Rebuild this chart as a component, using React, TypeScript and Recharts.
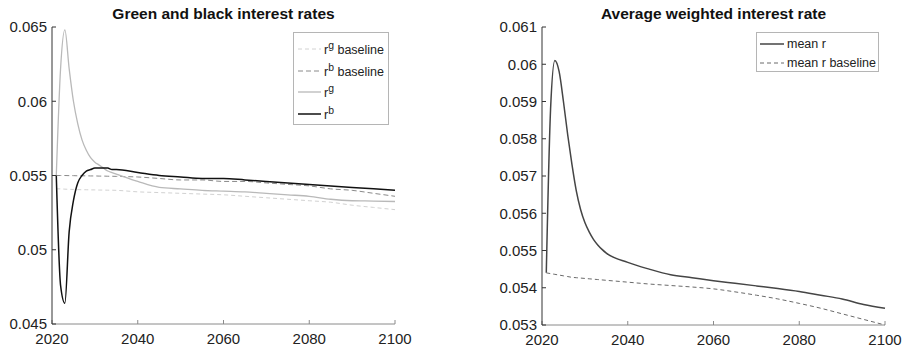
import type { ReactNode } from "react";
import { Legend, Line, LineChart, XAxis, YAxis } from "recharts";

const YEARS = [
  2021, 2022, 2023, 2024, 2025, 2026, 2027, 2028, 2029, 2030, 2031, 2032, 2033, 2034, 2035,
  2040, 2045, 2050, 2055, 2060, 2065, 2070, 2075, 2080, 2085, 2090, 2095, 2100,
];

// left panel
const R_G_BASE = [
  0.0541, 0.0541, 0.05408, 0.05407, 0.05406, 0.05405, 0.05404, 0.05404, 0.05403, 0.05403, 0.05402,
  0.05402, 0.05401, 0.05401, 0.054, 0.0539, 0.05385, 0.0538, 0.05375, 0.0537, 0.0536, 0.0535,
  0.0534, 0.0533, 0.0532, 0.053, 0.05285, 0.0527,
];
const R_B_BASE = [
  0.055, 0.055, 0.055, 0.05499, 0.05499, 0.05498, 0.05498, 0.05498, 0.05497, 0.05497, 0.05496,
  0.05496, 0.05495, 0.05495, 0.05494, 0.0549, 0.0548, 0.0547, 0.0547, 0.0546, 0.0546, 0.0545,
  0.0544, 0.0543, 0.0541, 0.054, 0.0538, 0.0536,
];
const R_G = [
  0.055, 0.0622, 0.0648, 0.0622, 0.06, 0.0585, 0.0574, 0.0567, 0.0562, 0.0559, 0.0557, 0.0555,
  0.0553, 0.0552, 0.0551, 0.0546, 0.0542, 0.0541, 0.054, 0.05395, 0.0539, 0.0538, 0.0537, 0.0536,
  0.0534, 0.0533, 0.05328, 0.05325,
];
const R_B = [
  0.055, 0.0476, 0.0464, 0.0512, 0.0533, 0.0545, 0.055, 0.0553, 0.0554, 0.0555, 0.0555, 0.0555,
  0.0555, 0.0554, 0.0554, 0.0552, 0.055, 0.0549, 0.0548, 0.0548, 0.0547, 0.0546, 0.0545, 0.0544,
  0.0543, 0.0542, 0.0541, 0.054,
];

// right panel
const MEAN_R = [
  0.0544, 0.0588, 0.0601, 0.0598, 0.059, 0.0581, 0.0573, 0.0566, 0.0561, 0.05575, 0.0555, 0.0553,
  0.05515, 0.05503, 0.05493, 0.05468, 0.0545, 0.05435, 0.05427, 0.05419, 0.05412, 0.05405, 0.05398,
  0.0539, 0.0538, 0.0537, 0.05355, 0.05345,
];
const MEAN_R_BASE = [
  0.0544, 0.05438, 0.05436, 0.05434, 0.05432, 0.0543, 0.05428, 0.05427, 0.05426, 0.05425, 0.05424,
  0.05423, 0.05422, 0.05421, 0.0542, 0.05415, 0.0541, 0.05406, 0.05402, 0.05397, 0.05389, 0.0538,
  0.0537, 0.05358, 0.05345, 0.0533, 0.05315, 0.053,
];

const X_TICKS = [2020, 2040, 2060, 2080, 2100];
const LEFT_Y_TICKS = [0.045, 0.05, 0.055, 0.06, 0.065];
const RIGHT_Y_TICKS = [0.053, 0.054, 0.055, 0.056, 0.057, 0.058, 0.059, 0.06, 0.061];

const leftData = YEARS.map((year, i) => ({
  year,
  rgBase: R_G_BASE[i],
  rbBase: R_B_BASE[i],
  rg: R_G[i],
  rb: R_B[i],
}));

const rightData = YEARS.map((year, i) => ({
  year,
  meanR: MEAN_R[i],
  meanRBase: MEAN_R_BASE[i],
}));

type Series = {
  key: string;
  label: ReactNode;
  color: string;
  width: number;
  dash?: string;
};

const LEFT_SERIES: Series[] = [
  { key: "rgBase", label: <>r<sup>g</sup> baseline</>, color: "#d2d2d2", width: 1, dash: "4 3" },
  { key: "rbBase", label: <>r<sup>b</sup> baseline</>, color: "#8a8a8a", width: 1, dash: "5 3" },
  { key: "rg", label: <>r<sup>g</sup></>, color: "#b9b9b9", width: 1.3 },
  { key: "rb", label: <>r<sup>b</sup></>, color: "#111", width: 1.5 },
];

const RIGHT_SERIES: Series[] = [
  { key: "meanR", label: "mean r", color: "#454545", width: 1.5 },
  { key: "meanRBase", label: "mean r baseline", color: "#6a6a6a", width: 1, dash: "4 3" },
];

const FONT = '"Liberation Sans", Arial, Helvetica, sans-serif';

function LegendBox({ items, lineLeft, lineW, rowH, padTop }: {
  items: Series[];
  lineLeft: number;
  lineW: number;
  rowH: number;
  padTop: number;
}) {
  return (
    <div
      style={{
        border: "1px solid #b5b5b5",
        background: "#fff",
        boxSizing: "border-box",
        width: "100%",
        height: "100%",
        paddingTop: padTop,
        fontFamily: FONT,
        fontSize: 12.5,
        color: "#222",
      }}
    >
      {items.map((s) => (
        <div key={s.key} style={{ height: rowH, display: "flex", alignItems: "center" }}>
          <svg width={lineLeft + lineW + 3} height={10} style={{ flex: "none" }}>
            <line
              x1={lineLeft}
              x2={lineLeft + lineW}
              y1={5}
              y2={5}
              stroke={s.color}
              strokeWidth={s.width}
              strokeDasharray={s.dash}
            />
          </svg>
          <span style={{ whiteSpace: "nowrap", lineHeight: 1 }}>{s.label}</span>
        </div>
      ))}
    </div>
  );
}

function Panel({
  title,
  data,
  series,
  yTicks,
  margin,
  legendStyle,
  legendProps,
}: {
  title: string;
  data: Record<string, number>[];
  series: Series[];
  yTicks: number[];
  margin: { left: number; right: number; top: number; bottom: number };
  legendStyle: Record<string, number>;
  legendProps: { lineLeft: number; lineW: number; rowH: number; padTop: number };
}) {
  const plotW = 451 - margin.left - margin.right;
  const tickStyle = { fontSize: 15, fill: "#222", fontFamily: FONT };
  return (
    <div style={{ position: "relative", width: 451, height: 354 }}>
      <div
        style={{
          position: "absolute",
          left: margin.left,
          width: plotW,
          top: 5,
          textAlign: "center",
          fontFamily: FONT,
          fontWeight: "bold",
          fontSize: 15.5,
          lineHeight: "18px",
          color: "#111",
          whiteSpace: "nowrap",
        }}
      >
        {title}
      </div>
      <LineChart
        width={451}
        height={354}
        data={data}
        margin={{ top: margin.top, right: margin.right, bottom: 0, left: 0 }}
      >
        <XAxis
          dataKey="year"
          type="number"
          domain={[2020, 2100]}
          ticks={X_TICKS}
          height={margin.bottom}
          tickSize={-4}
          tickMargin={13}
          stroke="#8a8a8a"
          tick={tickStyle}
        />
        <XAxis
          xAxisId="top"
          orientation="top"
          type="number"
          domain={[2020, 2100]}
          ticks={X_TICKS}
          height={0}
          tickSize={-4}
          tickFormatter={() => ""}
          stroke="#8a8a8a"
        />
        <YAxis
          type="number"
          domain={[yTicks[0], yTicks[yTicks.length - 1]]}
          ticks={yTicks}
          width={margin.left}
          tickSize={-4}
          tickMargin={9}
          tickFormatter={(v: number) => String(v)}
          stroke="#333"
          tick={tickStyle}
        />
        <YAxis
          yAxisId="right"
          orientation="right"
          type="number"
          domain={[yTicks[0], yTicks[yTicks.length - 1]]}
          ticks={yTicks}
          width={0}
          tickSize={-4}
          tickFormatter={() => ""}
          stroke="#8a8a8a"
        />
        <Legend
          layout="vertical"
          align="center"
          verticalAlign="middle"
          wrapperStyle={{ position: "absolute", ...legendStyle }}
          content={() => <LegendBox items={series} {...legendProps} />}
        />
        {series.map((s) => (
          <Line
            key={s.key}
            type="monotone"
            dataKey={s.key}
            stroke={s.color}
            strokeWidth={s.width}
            strokeDasharray={s.dash}
            dot={false}
            activeDot={false}
            isAnimationActive={false}
          />
        ))}
      </LineChart>
    </div>
  );
}

export default function App() {
  return (
    <div style={{ position: "absolute", left: 0, top: 0, width: 902, height: 354, display: "flex", background: "#fff" }}>
      <Panel
        title="Green and black interest rates"
        data={leftData}
        series={LEFT_SERIES}
        yTicks={LEFT_Y_TICKS}
        margin={{ left: 52, right: 56, top: 27, bottom: 30 }}
        legendStyle={{ left: 293, top: 32, width: 96, height: 93 }}
        legendProps={{ lineLeft: 4, lineW: 23, rowH: 21.7, padTop: 5 }}
      />
      <Panel
        title="Average weighted interest rate"
        data={rightData}
        series={RIGHT_SERIES}
        yTicks={RIGHT_Y_TICKS}
        margin={{ left: 91, right: 17, top: 27, bottom: 29 }}
        legendStyle={{ left: 305, top: 32, width: 123, height: 40 }}
        legendProps={{ lineLeft: 3, lineW: 24, rowH: 19, padTop: 1.5 }}
      />
    </div>
  );
}
